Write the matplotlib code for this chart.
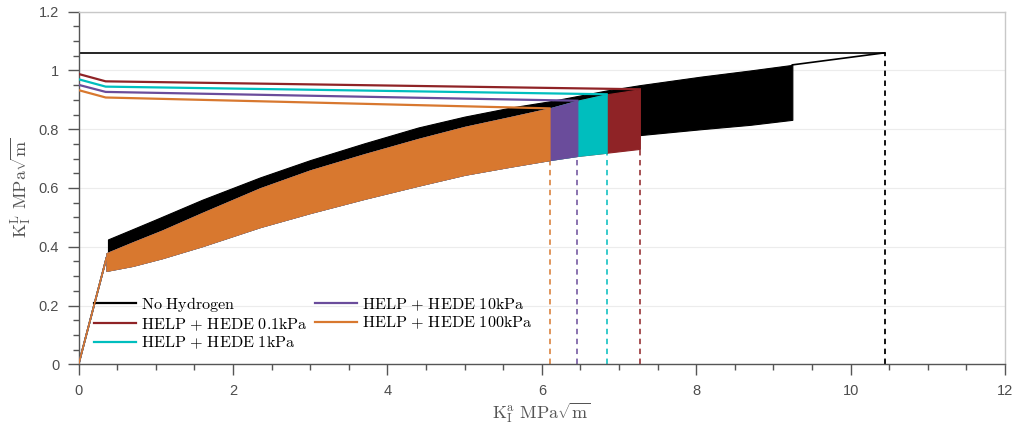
import matplotlib
matplotlib.use("Agg")
import matplotlib.pyplot as plt
from matplotlib.ticker import MultipleLocator
from matplotlib.lines import Line2D

plt.rcParams['mathtext.fontset'] = 'cm'

# ---------------- data ----------------
labels = ["No Hydrogen", "HELP + HEDE 0.1kPa", "HELP + HEDE 1kPa",
          "HELP + HEDE 10kPa", "HELP + HEDE 100kPa"]
colors = ["#000000", "#8F2326", "#00BEBE", "#6A4C9B", "#D8782F"]

# monotonic loading ramp before cycling
ramp_x = [0.0, 0.36]
ramp_y = [0.0, 0.362]

# No hydrogen cyclic band (upper / lower envelopes)
nh_x     = [0.38, 0.7, 1.0, 1.6, 2.35, 3.0, 3.7, 4.4, 5.0, 5.6, 6.1, 6.84,
            7.27, 8.06, 8.7, 9.245]
nh_upper = [0.425, 0.46, 0.493, 0.56, 0.636, 0.695, 0.752, 0.806, 0.843,
            0.874, 0.895, 0.932, 0.950, 0.979, 1.0, 1.019]
nh_lower = [0.35, 0.37, 0.39, 0.44, 0.50, 0.55, 0.60, 0.64, 0.68, 0.71,
            0.73, 0.765, 0.780, 0.800, 0.815, 0.832]
nh_crit_x = [0.0, 10.44]
nh_crit_y = [1.06, 1.06]
nh_final_x = [9.245, 10.44]
nh_final_y = [1.019, 1.06]
nh_fail = 10.44

# hydrogen cases: cyclic bands
h01_x     = [0.36, 0.7, 1.08, 1.6, 2.35, 3.0, 3.7, 4.4, 5.0, 5.6, 6.1, 6.46, 6.84, 7.27]
h01_upper = [0.378, 0.415, 0.455, 0.515, 0.599, 0.660, 0.715, 0.767, 0.808, 0.842,
             0.871, 0.897, 0.919, 0.936]
h01_lower = [0.318, 0.335, 0.361, 0.402, 0.467, 0.515, 0.563, 0.608, 0.645, 0.673,
             0.695, 0.709, 0.720, 0.733]

h1_x     = [0.36, 0.7, 1.08, 1.6, 2.35, 3.0, 3.7, 4.4, 5.0, 5.6, 6.1, 6.46, 6.84]
h1_upper = [0.378, 0.415, 0.455, 0.515, 0.599, 0.660, 0.715, 0.767, 0.808, 0.842,
            0.871, 0.897, 0.919]
h1_lower = [0.318, 0.335, 0.361, 0.402, 0.467, 0.515, 0.563, 0.608, 0.645, 0.673,
            0.695, 0.709, 0.720]

h10_x     = [0.36, 0.7, 1.08, 1.6, 2.35, 3.0, 3.7, 4.4, 5.0, 5.6, 6.1, 6.46]
h10_upper = [0.378, 0.415, 0.455, 0.515, 0.599, 0.660, 0.715, 0.767, 0.808, 0.842,
             0.871, 0.897]
h10_lower = [0.318, 0.335, 0.361, 0.402, 0.467, 0.515, 0.563, 0.608, 0.645, 0.673,
             0.695, 0.709]

h100_x     = [0.36, 0.7, 1.08, 1.6, 2.35, 3.0, 3.7, 4.4, 5.0, 5.6, 6.1]
h100_upper = [0.378, 0.415, 0.455, 0.515, 0.599, 0.660, 0.715, 0.767, 0.808, 0.842,
              0.871]
h100_lower = [0.318, 0.335, 0.361, 0.402, 0.467, 0.515, 0.563, 0.608, 0.645, 0.673,
              0.695]

# hydrogen cases: critical (threshold) lines
h01_crit_x, h01_crit_y = [0.0, 0.35, 7.27], [0.988, 0.963, 0.936]
h1_crit_x, h1_crit_y = [0.0, 0.35, 6.84], [0.970, 0.945, 0.919]
h10_crit_x, h10_crit_y = [0.0, 0.35, 6.46], [0.951, 0.927, 0.897]
h100_crit_x, h100_crit_y = [0.0, 0.35, 6.10], [0.933, 0.908, 0.871]

fail_x = [7.27, 6.84, 6.46, 6.10]

xticks = [0, 2, 4, 6, 8, 10, 12]
yticks = [0, 0.2, 0.4, 0.6, 0.8, 1.0, 1.2]
ytick_labels = ["0", "0.2", "0.4", "0.6", "0.8", "1", "1.2"]

# ---------------- figure ----------------
fig = plt.figure(figsize=(10.2, 4.3), dpi=100)
ax = fig.add_axes([0.0771, 0.1528, 0.9082, 0.820])

# dashed failure verticals (behind everything)
ax.plot([nh_fail, nh_fail], [0, nh_crit_y[-1]], color=colors[0], ls=(0, (3, 2.5)),
        lw=1.3, zorder=1)
h_bands = [(h01_x, h01_upper, h01_lower), (h1_x, h1_upper, h1_lower),
           (h10_x, h10_upper, h10_lower), (h100_x, h100_upper, h100_lower)]
h_crit = [(h01_crit_x, h01_crit_y), (h1_crit_x, h1_crit_y),
          (h10_crit_x, h10_crit_y), (h100_crit_x, h100_crit_y)]
for i, fx in enumerate(fail_x):
    ax.plot([fx, fx], [0, h_bands[i][2][-1]], color=colors[i + 1],
            ls=(0, (3, 2.5)), lw=1.3, zorder=1, alpha=0.85)

# No hydrogen
ax.plot(ramp_x, ramp_y, color=colors[0], lw=1.2, zorder=2)
ax.fill_between(nh_x, nh_lower, nh_upper, color=colors[0], lw=0.8,
                edgecolor=colors[0], zorder=2)
ax.plot(nh_crit_x, nh_crit_y, color=colors[0], lw=1.2, zorder=2)
ax.plot(nh_final_x, nh_final_y, color=colors[0], lw=1.2, zorder=2)

# hydrogen
for i, ((bx, bu, bl), (cx, cy)) in enumerate(zip(h_bands, h_crit)):
    c = colors[i + 1]
    z = 3 + i
    ax.plot(ramp_x, ramp_y, color=c, lw=1.2, zorder=z)
    ax.fill_between(bx, bl, bu, color=c, lw=0.8, edgecolor=c, zorder=z)
    ax.plot(cx, cy, color=c, lw=1.6, zorder=z)

ax.set_xlim(0, 12)
ax.set_ylim(0, 1.2)
ax.set_xticks(xticks)
ax.set_xticklabels([str(t) for t in xticks])
ax.set_yticks(yticks)
ax.set_yticklabels(ytick_labels)
ax.xaxis.set_minor_locator(MultipleLocator(0.5))
ax.yaxis.set_minor_locator(MultipleLocator(0.05))

tick_col = "#4d4d4d"
ax.tick_params(axis='both', which='major', direction='out', length=8, width=1.0,
               color="#555555", labelcolor=tick_col, labelsize=10.5, pad=6)
ax.tick_params(axis='both', which='minor', direction='out', length=4.5, width=1.0,
               color="#555555")
for lab in ax.get_xticklabels() + ax.get_yticklabels():
    lab.set_family("Liberation Sans")

for s in ['left', 'bottom']:
    ax.spines[s].set_color("#555555")
    ax.spines[s].set_linewidth(1.0)
for s in ['top', 'right']:
    ax.spines[s].set_color("#c8c8c8")
    ax.spines[s].set_linewidth(1.0)

ax.yaxis.grid(True, color="#ececec", lw=0.8)
ax.set_axisbelow(True)

ax.set_xlabel(r'$\mathrm{K_I^a\ MPa\sqrt{m}}$', fontsize=13, color="#555555",
              labelpad=2)
ax.set_ylabel(r'$\mathrm{K_I^L\ MPa\sqrt{m}}$', fontsize=13, color="#555555",
              labelpad=4)


def to_math(s):
    s = s.replace(' ', '\\ ')
    s = s.replace('\\ +\\ ', '\\ {+}\\ ')
    return '$\\mathrm{' + s + '}$'


handles = [Line2D([0], [0], color=c, lw=1.6) for c in colors]
mlabels = [to_math(l) for l in labels]
leg = ax.legend(handles, mlabels, ncol=2, loc='lower left',
                bbox_to_anchor=(0.006, 0.010), frameon=False, fontsize=11.6,
                handlelength=2.6, handletextpad=0.3, labelspacing=0.12,
                columnspacing=0.5, borderaxespad=0.2)

fig.savefig("out.png", dpi=100)
